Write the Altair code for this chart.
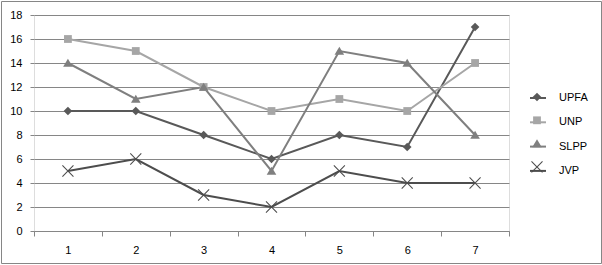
import math
import altair as alt
import pandas as pd

categories = [1, 2, 3, 4, 5, 6, 7]
series_names = ["UPFA", "UNP", "SLPP", "JVP"]
upfa = [10, 10, 8, 6, 8, 7, 17]
unp = [16, 15, 12, 10, 11, 10, 14]
slpp = [14, 11, 12, 5, 15, 14, 8]
jvp = [5, 6, 3, 2, 5, 4, 4]
y_ticks = [0, 2, 4, 6, 8, 10, 12, 14, 16, 18]

colors = ["#595959", "#A6A6A6", "#7F7F7F", "#4D4D4D"]

rows = []
for name, vals in zip(series_names, [upfa, unp, slpp, jvp]):
    for c, v in zip(categories, vals):
        rows.append({"series": name, "cat": c, "value": v})
df = pd.DataFrame(rows)


def x_path(L, w):
    pts = [(w, -L), (w, -w), (L, -w), (L, w), (w, w), (w, L), (-w, L), (-w, w),
           (-L, w), (-L, -w), (-w, -w), (-w, -L)]
    s = math.sqrt(2)
    r = [((x - y) / s, (x + y) / s) for x, y in pts]
    return "M" + "L".join(f"{x:.3f},{y:.3f}" for x, y in r) + "Z"


diamond = "M0,-0.72L0.72,0L0,0.72L-0.72,0Z"
square = "M-0.65,-0.65L0.65,-0.65L0.65,0.65L-0.65,0.65Z"
triangle = "M0,-0.72L0.8,0.62L-0.8,0.62Z"
xmark = x_path(1.3, 0.09)
shapes = [diamond, square, triangle, xmark]

FONT = "Liberation Sans"
GRID = "#868686"
LX, LY = 497, 76

x_enc = alt.X(
    "cat:O",
    bandPosition=0.5,
    scale=alt.Scale(type="band", paddingInner=0, paddingOuter=0),
    axis=alt.Axis(
        title=None, labelAngle=0, grid=False, tickBand="extent",
        domainColor=GRID, tickColor=GRID, tickSize=5, labelPadding=8,
        labelFont=FONT, labelFontSize=11, labelColor="#000000",
    ),
)
y_enc = alt.Y(
    "value:Q",
    scale=alt.Scale(domain=[0, 18], nice=False),
    axis=alt.Axis(
        title=None, values=y_ticks, grid=True, gridColor=GRID, domain=False,
        tickColor=GRID, tickSize=4, labelPadding=8, labelFont=FONT,
        labelFontSize=11, labelColor="#000000",
    ),
)

lines = alt.Chart(df).mark_line(strokeWidth=2).encode(
    x=x_enc,
    y=y_enc,
    stroke=alt.Stroke(
        "series:N",
        sort=series_names,
        scale=alt.Scale(range=colors),
        legend=alt.Legend(
            title=None, orient="none", legendX=LX, legendY=LY,
            symbolType="M-1.33,0L1.33,0", symbolSize=144, symbolStrokeWidth=2,
            rowPadding=12.3, labelOffset=14, labelFont=FONT, labelFontSize=11,
            labelColor="#000000", padding=0,
        ),
    ),
)

shape_legend = alt.Legend(
    title=None, orient="none", legendX=LX, legendY=LY,
    symbolSize=144, symbolStrokeWidth=0, rowPadding=12.3, labelOffset=14,
    labelFont=FONT, labelFontSize=11, labelExpr="''", padding=0,
)

points = alt.Chart(df).transform_calculate(s2="datum.series").mark_point(
    filled=True, opacity=1, size=144, strokeWidth=0
).encode(
    x=x_enc,
    y=y_enc,
    color=alt.Color(
        "s2:N",
        scale=alt.Scale(domain=series_names, range=colors),
        legend=shape_legend,
    ),
    shape=alt.Shape(
        "s2:N",
        scale=alt.Scale(domain=series_names, range=shapes),
        legend=shape_legend,
    ),
)

frame = alt.Chart(pd.DataFrame({"a": [0]})).mark_rect(
    fillOpacity=0, stroke=GRID, strokeWidth=1
).encode(
    x=alt.value(-32.5), x2=alt.value(567.5),
    y=alt.value(-13.5), y2=alt.value(248.5),
)

chart = alt.layer(frame, lines, points).properties(
    width=475, height=216,
    autosize=alt.AutoSizeParams(type="none"),
    padding={"left": 34, "top": 15, "right": 93, "bottom": 34},
).configure_view(stroke=None).configure(background="white")

chart.save("out.html", embed_options={"renderer": "svg", "actions": False})
